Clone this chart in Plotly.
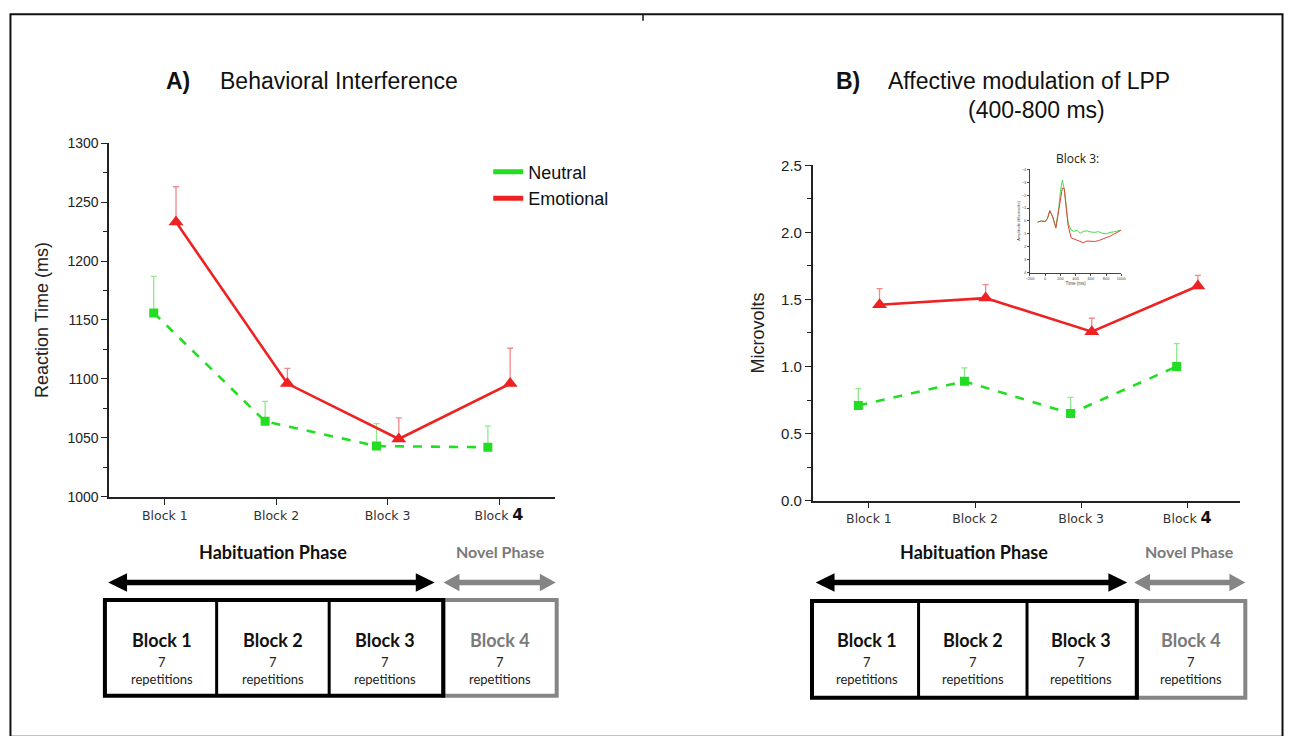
import plotly.graph_objects as go

W, H = 1290, 736

# ---------------- data ----------------
block_idx = [0, 1, 2, 3]
block_labels = ["Block 1", "Block 2", "Block 3",
                "Block <b><span style='font-size:16px;color:#111'>4</span></b>"]

rt_neutral = [1156, 1064, 1043, 1042]
rt_neutral_err = [31, 17, 19, 18]
rt_emotional = [1233, 1096, 1049, 1096]
rt_emotional_err = [30, 13, 18, 30]

lpp_neutral = [0.71, 0.89, 0.65, 1.00]
lpp_neutral_err = [0.125, 0.10, 0.12, 0.17]
lpp_emotional = [1.46, 1.51, 1.26, 1.60]
lpp_emotional_err = [0.12, 0.10, 0.10, 0.08]

erp_time = [-100, -50, 0, 30, 60, 100, 140, 180, 200, 225, 250, 275, 300, 340,
            380, 420, 460, 500, 550, 600, 650, 700, 750, 800, 850, 900, 950, 1000]
erp_neutral = [0.08, 0.0, 0.05, -0.2, -0.8, -0.3, 0.5, -1.1, -2.3, -3.15, -2.5, -1.2,
               0.1, 0.71, 0.8, 0.72, 0.95, 0.8, 0.76, 0.85, 0.88, 0.82, 0.95, 1.0,
               0.88, 0.84, 0.8, 0.71]
erp_emotional = [0.08, 0.0, 0.05, -0.2, -0.8, -0.3, 0.55, -0.9, -1.9, -2.55, -2.5, -1.2,
                 0.3, 1.3, 1.39, 1.5, 1.6, 1.68, 1.55, 1.55, 1.58, 1.52, 1.42, 1.3,
                 1.18, 1.02, 0.88, 0.71]

series_names = ["Neutral", "Emotional"]
phase_labels = ["Habituation Phase", "Novel Phase"]
box_titles = ["Block 1", "Block 2", "Block 3", "Block 4"]
box_counts = ["7", "7", "7", "7"]

# ---------------- styles ----------------
GREEN = "#22dd22"
RED = "#ee2222"
GREEN_ERR = "#8fe88f"
RED_ERR = "#f08a8a"
ARIAL = "Liberation Sans, Arial, sans-serif"
TAHOMA = "DejaVu Sans, Verdana, sans-serif"
CAL = "Lato, Open Sans, sans-serif"
OFFSET = 0.1


def px(x):
    return x / W


def py(y):
    return 1 - y / H


fig = go.Figure()


def add_pair(xa, ya, neu, neu_err, emo, emo_err):
    xn = [i - OFFSET for i in block_idx]
    xe = [i + OFFSET for i in block_idx]
    fig.add_trace(go.Scatter(
        x=xn, y=neu, mode="lines+markers", xaxis=xa, yaxis=ya, showlegend=False,
        line=dict(color=GREEN, width=2.6, dash="dash"),
        marker=dict(symbol="square", size=9, color=GREEN),
        error_y=dict(type="data", symmetric=False, array=neu_err,
                     arrayminus=[0] * len(neu_err), color=GREEN_ERR, thickness=1.3, width=3)))
    fig.add_trace(go.Scatter(
        x=xe, y=emo, mode="lines+markers", xaxis=xa, yaxis=ya, showlegend=False,
        line=dict(color=RED, width=2.6),
        marker=dict(symbol="triangle-up", size=13, color=RED),
        error_y=dict(type="data", symmetric=False, array=emo_err,
                     arrayminus=[0] * len(emo_err), color=RED_ERR, thickness=1.3, width=3)))


add_pair("x", "y", rt_neutral, rt_neutral_err, rt_emotional, rt_emotional_err)
add_pair("x2", "y2", lpp_neutral, lpp_neutral_err, lpp_emotional, lpp_emotional_err)

# legend-only entries
for name, col in zip(series_names, [GREEN, RED]):
    fig.add_trace(go.Scatter(x=[None], y=[None], mode="lines", name=name,
                             line=dict(color=col, width=5), xaxis="x", yaxis="y"))

# inset ERP
fig.add_trace(go.Scatter(x=erp_time, y=erp_neutral, mode="lines", xaxis="x3", yaxis="y3",
                         showlegend=False, line=dict(color="#44dd44", width=1)))
fig.add_trace(go.Scatter(x=erp_time, y=erp_emotional, mode="lines", xaxis="x3", yaxis="y3",
                         showlegend=False, line=dict(color="#e04040", width=1)))

axis_common = dict(showline=True, linecolor="#222", linewidth=1.5, showgrid=False,
                   zeroline=False, ticks="outside", tickcolor="#222", mirror=False)

fig.update_layout(
    width=W, height=H, margin=dict(l=0, r=0, t=0, b=0),
    paper_bgcolor="white", plot_bgcolor="white",
    xaxis=dict(domain=[px(105), px(554)], range=[-0.5, 3.5], anchor="y",
               tickvals=block_idx, ticktext=block_labels, ticklen=6,
               tickfont=dict(family=TAHOMA, size=12.5, color="#333"), **axis_common),
    yaxis=dict(domain=[py(499.3), py(137.3)], range=[1000, 1300], anchor="x",
               tick0=1000, dtick=50, ticklen=6,
               minor=dict(dtick=25, ticklen=4, ticks="outside", tickcolor="#222"),
               tickfont=dict(family=ARIAL, size=14, color="#222"),
               title=dict(text="Reaction Time (ms)", standoff=14,
                          font=dict(family=ARIAL, size=18, color="#222")),
               **axis_common),
    xaxis2=dict(domain=[px(814), px(1245)], range=[-0.53, 3.5], anchor="y2",
                tickvals=block_idx, ticktext=block_labels, ticklen=6,
                tickfont=dict(family=TAHOMA, size=12.5, color="#333"), **axis_common),
    yaxis2=dict(domain=[py(503.3), py(160)], range=[0, 2.5], anchor="x2",
                tick0=0, dtick=0.5, tickformat=".1f", ticklen=6,
                minor=dict(dtick=0.25, ticklen=4, ticks="outside", tickcolor="#222"),
                tickfont=dict(family=ARIAL, size=15, color="#222"),
                title=dict(text="Microvolts", standoff=12,
                           font=dict(family=ARIAL, size=18, color="#222")),
                **axis_common),
    xaxis3=dict(domain=[px(1033), px(1125)], range=[-200, 1000], anchor="y3",
                tickvals=[-200, 0, 200, 400, 600, 800, 1000], ticklen=2,
                showline=True, linecolor="#444", linewidth=0.8, showgrid=False,
                zeroline=False, ticks="outside", tickcolor="#444",
                tickfont=dict(family=ARIAL, size=4, color="#444"),
                title=dict(text="Time (ms)", standoff=1,
                           font=dict(family=ARIAL, size=4.5, color="#444"))),
    yaxis3=dict(domain=[py(270), py(164)], range=[4, -4], anchor="x3",
                tickvals=[-4, -3, -2, -1, 0, 1, 2, 3, 4], ticklen=2,
                showline=True, linecolor="#444", linewidth=0.8, showgrid=False,
                zeroline=False, ticks="outside", tickcolor="#444",
                tickfont=dict(family=ARIAL, size=4, color="#444"),
                title=dict(text="Amplitude (Microvolts)", standoff=1,
                           font=dict(family=ARIAL, size=4, color="#444"))),
    legend=dict(x=px(487), y=py(148), xanchor="left", yanchor="top",
                bgcolor="rgba(0,0,0,0)", itemwidth=30,
                font=dict(family=ARIAL, size=18, color="#111")),
)

annotations = []


def txt(x, y, text, size, color="#111", family=ARIAL, xanchor="center", bold=False):
    annotations.append(dict(
        x=px(x), y=py(y), xref="paper", yref="paper", showarrow=False,
        text=f"<b>{text}</b>" if bold else text, xanchor=xanchor, yanchor="middle",
        font=dict(family=family, size=size, color=color)))


# panel titles
txt(160, 74, "A)", 23, bold=True, xanchor="left")
txt(215, 74, "Behavioral Interference", 23, xanchor="left")
txt(835, 74, "B)", 23, bold=True, xanchor="left")
txt(888, 74, "Affective modulation of LPP", 23, xanchor="left")
txt(1040, 103, "(400-800 ms)", 23)
txt(1081, 153, "Block 3:", 12, color="#222", family="Open Sans, sans-serif")

shapes = []


def arrow(x0, x1, y, color, sh=2.8, hl=19, hh=9.5):
    pts = [(x0, y), (x0 + hl, y - hh), (x0 + hl, y - sh), (x1 - hl, y - sh),
           (x1 - hl, y - hh), (x1, y), (x1 - hl, y + hh), (x1 - hl, y + sh),
           (x0 + hl, y + sh), (x0 + hl, y + hh)]
    path = "M " + " L ".join(f"{px(a):.5f},{py(b):.5f}" for a, b in pts) + " Z"
    shapes.append(dict(type="path", path=path, xref="paper", yref="paper",
                       fillcolor=color, line=dict(width=0)))


def rect(x0, x1, y0, y1, color, width):
    shapes.append(dict(type="rect", xref="paper", yref="paper",
                       x0=px(x0), x1=px(x1), y0=py(y1), y1=py(y0),
                       line=dict(color=color, width=width), fillcolor="rgba(0,0,0,0)"))


def vline(x, y0, y1, color, width):
    shapes.append(dict(type="line", xref="paper", yref="paper",
                       x0=px(x), x1=px(x), y0=py(y0), y1=py(y1),
                       line=dict(color=color, width=width)))


GREY = "#858585"


def diagram(bx0, d1, d2, bx1, gx1, top, bot, arrow_black, arrow_grey, centers,
            hab_x, nov_x):
    arrow(arrow_black[0], arrow_black[1], 587, "#000")
    arrow(arrow_grey[0], arrow_grey[1], 587, GREY, hl=16, hh=9)
    rect(bx1, gx1, top, bot, GREY, 4)
    rect(bx0, bx1, top, bot, "#000", 4)
    vline(d1, top, bot, "#000", 3)
    vline(d2, top, bot, "#000", 3)
    txt(hab_x, 556, phase_labels[0], 18, family=CAL, bold=True)
    txt(nov_x, 555, phase_labels[1], 16, color="#7a7a7a", family=CAL, bold=True)
    for i, cx in enumerate(centers):
        col = "#7a7a7a" if i == 3 else "#111"
        txt(cx, 646, box_titles[i], 18, color=col, family=CAL, bold=True)
        txt(cx, 668, box_counts[i], 13, color="#222", family=CAL)
        txt(cx, 686, "repetitions", 13, color="#222", family=CAL)


diagram(100.7, 213.3, 326.7, 441.7, 556, 605, 703, (104, 433), (442, 555),
        [158.3, 270, 383.3, 499.3], 270, 499)
diagram(813.3, 920.7, 1030, 1140.7, 1250, 606, 705, (817, 1131), (1138, 1250),
        [869, 975.7, 1084.3, 1195], 977, 1194)

# outer frame
shapes.append(dict(type="rect", xref="paper", yref="paper", x0=px(5.5), x1=px(1287.5),
                   y0=py(745), y1=py(5.5), line=dict(color="#111", width=2)))
shapes.append(dict(type="line", xref="paper", yref="paper", x0=px(643), x1=px(643),
                   y0=py(6), y1=py(12), line=dict(color="#111", width=1.5)))

fig.update_layout(annotations=annotations, shapes=shapes)

PIN = ("document.documentElement.style.margin='0';"
       "document.documentElement.style.overflow='hidden';"
       "document.body.style.margin='0';document.body.style.overflow='hidden';"
       "var g=document.querySelector('.plotly-graph-div');"
       "g.style.position='fixed';g.style.left='0px';g.style.top='0px';")
fig.write_html("out.html", config={"displayModeBar": False, "responsive": False},
               post_script=PIN)
